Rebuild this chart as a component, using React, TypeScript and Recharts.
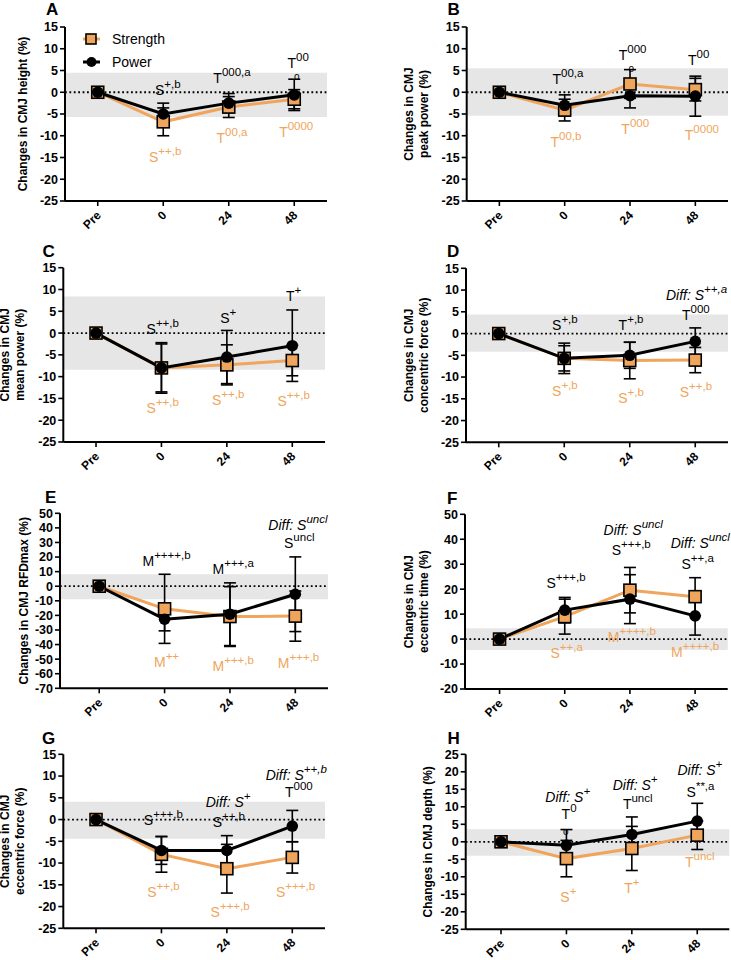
import {
  ComposedChart,
  ErrorBar,
  Line,
  ReferenceArea,
  ReferenceLine,
  Scatter,
  XAxis,
  YAxis,
} from "recharts";

const FONT = "'Liberation Sans', Arial, Helvetica, sans-serif";
const ORANGE = "#EFA55C";
const BAND = "#E6E6E6";

const CATEGORIES = ["Pre", "0", "24", "48"];
const SERIES_NAMES = ["Strength", "Power"];

const TICKS_A = [-25, -20, -15, -10, -5, 0, 5, 10, 15];
const TICKS_E = [-70, -60, -50, -40, -30, -20, -10, 0, 10, 20, 30, 40, 50];
const TICKS_F = [-20, -10, 0, 10, 20, 30, 40, 50];
const TICKS_H = [-25, -20, -15, -10, -5, 0, 5, 10, 15, 20, 25];

// means and SD per time point (Pre, 0, 24, 48 h)
const aStrength = [0, -6.8, -3.4, -1.6];
const aStrengthSd = [0, 3.2, 2.4, 2.2];
const aPower = [0, -5.0, -2.5, -0.6];
const aPowerSd = [0, 2.5, 2.2, 3.6];
const aBand = [-5.7, 4.5];

const bStrength = [0, -4.1, 1.9, 0.6];
const bStrengthSd = [0, 2.5, 3.3, 2.6];
const bPower = [0, -3.0, -0.8, -0.9];
const bPowerSd = [0, 2.4, 2.8, 4.6];
const bBand = [-5.4, 5.5];

const cStrength = [0, -8.0, -7.3, -6.3];
const cStrengthSd = [0, 5.5, 4.6, 3.5];
const cPower = [0, -8.0, -5.5, -2.9];
const cPowerSd = [0, 5.8, 6.1, 8.2];
const cBand = [-8.4, 8.4];

const dStrength = [0, -5.7, -6.2, -6.1];
const dStrengthSd = [0, 2.9, 4.2, 2.9];
const dPower = [0, -5.7, -5.0, -1.8];
const dPowerSd = [0, 3.5, 3.0, 3.1];
const dBand = [-4.2, 4.4];

const eStrength = [0, -15.5, -20.8, -20.5];
const eStrengthSd = [0, 23.7, 20.5, 17.2];
const ePower = [0, -22.6, -19.2, -5.5];
const ePowerSd = [0, 8.0, 21.5, 25.6];
const eBand = [-8.9, 8.2];

const fStrength = [0, 9.0, 19.6, 17.0];
const fStrengthSd = [0, 7.0, 9.1, 7.6];
const fPower = [0, 11.6, 16.0, 9.3];
const fPowerSd = [0, 5.1, 9.8, 7.7];
const fBand = [-4.4, 4.3];

const gStrength = [0, -8.0, -11.3, -8.7];
const gStrengthSd = [0, 4.1, 5.6, 3.6];
const gPower = [0, -7.1, -7.1, -1.5];
const gPowerSd = [0, 3.2, 3.4, 3.6];
const gBand = [-4.4, 4.1];

const hStrength = [0, -4.8, -1.9, 1.9];
const hStrengthSd = [0, 5.2, 6.3, 4.1];
const hPower = [0, -1.0, 2.1, 5.9];
const hPowerSd = [0, 4.5, 5.0, 5.1];
const hBand = [-4.0, 3.6];

// annotations: t = time index, v = value, m = main text, s = superscript, c = group colour
type Note = { t: number; v: number; m: string; s?: string; c: "s" | "p"; i?: boolean };

const aNotes: Note[] = [
  { t: 1.07, v: -0.6, m: "S", s: "+,b", c: "p" },
  { t: 1.03, v: -16.0, m: "S", s: "++,b", c: "s" },
  { t: 2.05, v: 2.1, m: "T", s: "000,a", c: "p" },
  { t: 2.05, v: -11.7, m: "T", s: "00,a", c: "s" },
  { t: 3.06, v: 5.5, m: "T", s: "00", c: "p" },
  { t: 3.03, v: -10.2, m: "T", s: "0000", c: "s" },
  { t: 3.04, v: 3.6, m: "o", c: "p" },
];
const bNotes: Note[] = [
  { t: 1.05, v: 1.9, m: "T", s: "00,a", c: "p" },
  { t: 1.02, v: -12.5, m: "T", s: "00,b", c: "s" },
  { t: 2.04, v: 7.4, m: "T", s: "000", c: "p" },
  { t: 2.08, v: -9.7, m: "T", s: "000", c: "s" },
  { t: 3.05, v: 6.3, m: "T", s: "00", c: "p" },
  { t: 3.1, v: -11.0, m: "T", s: "0000", c: "s" },
  { t: 2.02, v: 5.5, m: "o", c: "p" },
];
const cNotes: Note[] = [
  { t: 1.02, v: -0.3, m: "S", s: "++,b", c: "p" },
  { t: 1.02, v: -18.4, m: "S", s: "++,b", c: "s" },
  { t: 2.02, v: 2.2, m: "S", s: "+", c: "p" },
  { t: 2.02, v: -16.5, m: "S", s: "++,b", c: "s" },
  { t: 3.02, v: 7.4, m: "T", s: "+", c: "p" },
  { t: 3.02, v: -16.7, m: "S", s: "++,b", c: "s" },
];
const dNotes: Note[] = [
  { t: 1.01, v: 0.8, m: "S", s: "+,b", c: "p" },
  { t: 1.01, v: -14.3, m: "S", s: "+,b", c: "s" },
  { t: 2.02, v: 0.8, m: "T", s: "+,b", c: "p" },
  { t: 2.02, v: -16.0, m: "S", s: "+,b", c: "s" },
  { t: 3.02, v: 7.7, m: "Diff: S", s: "++,a", c: "p", i: true },
  { t: 3.01, v: 3.1, m: "T", s: "000", c: "p" },
  { t: 3.01, v: -14.5, m: "S", s: "++,b", c: "s" },
];
const eNotes: Note[] = [
  { t: 1.03, v: 13.9, m: "M", s: "++++,b", c: "p" },
  { t: 1.03, v: -55.2, m: "M", s: "++", c: "s" },
  { t: 2.05, v: 8.2, m: "M", s: "+++,a", c: "p" },
  { t: 2.05, v: -58.0, m: "M", s: "+++,b", c: "s" },
  { t: 3.04, v: 38.5, m: "Diff: S", s: "uncl", c: "p", i: true },
  { t: 3.06, v: 26.0, m: "S", s: "uncl", c: "p" },
  { t: 3.05, v: -55.9, m: "M", s: "+++,b", c: "s" },
];
const fNotes: Note[] = [
  { t: 1.02, v: 20.6, m: "S", s: "+++,b", c: "p" },
  { t: 1.03, v: -7.5, m: "S", s: "++,a", c: "s" },
  { t: 2.05, v: 41.7, m: "Diff: S", s: "uncl", c: "p", i: true },
  { t: 2.02, v: 33.7, m: "S", s: "+++,b", c: "p" },
  { t: 2.03, v: -1.0, m: "M", s: "++++,b", c: "s" },
  { t: 3.08, v: 36.4, m: "Diff: S", s: "uncl", c: "p", i: true },
  { t: 3.04, v: 28.0, m: "S", s: "++,a", c: "p" },
  { t: 3.0, v: -7.1, m: "M", s: "++++,b", c: "s" },
];
const gNotes: Note[] = [
  { t: 1.03, v: -1.2, m: "S", s: "+++,b", c: "p" },
  { t: 1.03, v: -17.7, m: "S", s: "++,b", c: "s" },
  { t: 2.02, v: 2.8, m: "Diff: S", s: "+", c: "p", i: true },
  { t: 2.03, v: -1.6, m: "S", s: "++,b", c: "p" },
  { t: 2.05, v: -22.5, m: "S", s: "+++,b", c: "s" },
  { t: 3.06, v: 9.1, m: "Diff: S", s: "++,b", c: "p", i: true },
  { t: 3.1, v: 5.1, m: "T", s: "000", c: "p" },
  { t: 3.05, v: -17.7, m: "S", s: "+++,b", c: "s" },
];
const hNotes: Note[] = [
  { t: 1.02, v: 11.5, m: "Diff: S", s: "+", c: "p", i: true },
  { t: 1.04, v: 6.4, m: "T", s: "0", c: "p" },
  { t: 0.99, v: 2.9, m: "o", c: "p" },
  { t: 1.03, v: -17.1, m: "S", s: "+", c: "s" },
  { t: 2.05, v: 14.8, m: "Diff: S", s: "+", c: "p", i: true },
  { t: 2.09, v: 9.3, m: "T", s: "uncl", c: "p" },
  { t: 2.0, v: -14.7, m: "T", s: "+", c: "s" },
  { t: 3.04, v: 19.1, m: "Diff: S", s: "+", c: "p", i: true },
  { t: 3.05, v: 12.7, m: "S", s: "**,a", c: "p" },
  { t: 3.04, v: -7.1, m: "T", s: "uncl", c: "s" },
];

type Panel = {
  letter: string;
  letterX: number;
  letterY: number;
  left: number;
  top: number;
  width: number;
  axisX: number;
  plotTop: number;
  plotBottom: number;
  plotRight: number;
  xDomain: [number, number];
  yDomain: [number, number];
  yTicks: number[];
  yLabel: string[];
  labelX: number;
  band: number[];
  strength: number[];
  strengthSd: number[];
  power: number[];
  powerSd: number[];
  notes: Note[];
};

const PANELS: Panel[] = [
  {
    letter: "A", letterX: 46, letterY: 15.3, left: 0, top: 0, width: 365,
    axisX: 65, plotTop: 27, plotBottom: 201, plotRight: 327,
    xDomain: [-0.5, 3.5], yDomain: [-25, 15], yTicks: TICKS_A,
    yLabel: ["Changes in CMJ height (%)"], labelX: 27,
    band: aBand, strength: aStrength, strengthSd: aStrengthSd, power: aPower, powerSd: aPowerSd, notes: aNotes,
  },
  {
    letter: "B", letterX: 447.5, letterY: 15.3, left: 365, top: 0, width: 366,
    axisX: 466.7, plotTop: 27, plotBottom: 201, plotRight: 728,
    xDomain: [-0.5, 3.5], yDomain: [-25, 15], yTicks: TICKS_A,
    yLabel: ["Changes in CMJ", "peak power (%)"], labelX: 48.3,
    band: bBand, strength: bStrength, strengthSd: bStrengthSd, power: bPower, powerSd: bPowerSd, notes: bNotes,
  },
  {
    letter: "C", letterX: 42.5, letterY: 257.3, left: 0, top: 240, width: 365,
    axisX: 63.3, plotTop: 267.7, plotBottom: 442, plotRight: 325,
    xDomain: [-0.5, 3.5], yDomain: [-25, 15], yTicks: TICKS_A,
    yLabel: ["Changes in CMJ", "mean power (%)"], labelX: 9.5,
    band: cBand, strength: cStrength, strengthSd: cStrengthSd, power: cPower, powerSd: cPowerSd, notes: cNotes,
  },
  {
    letter: "D", letterX: 447, letterY: 257.3, left: 365, top: 240, width: 366,
    axisX: 466, plotTop: 268.3, plotBottom: 442.3, plotRight: 728,
    xDomain: [-0.5, 3.5], yDomain: [-25, 15], yTicks: TICKS_A,
    yLabel: ["Changes in CMJ", "concentric force (%)"], labelX: 48.3,
    band: dBand, strength: dStrength, strengthSd: dStrengthSd, power: dPower, powerSd: dPowerSd, notes: dNotes,
  },
  {
    letter: "E", letterX: 45, letterY: 503.3, left: 0, top: 480, width: 365,
    axisX: 60, plotTop: 513.3, plotBottom: 688.3, plotRight: 328,
    xDomain: [-0.6, 3.5], yDomain: [-70, 50], yTicks: TICKS_E,
    yLabel: ["Changes in CMJ RFDmax (%)"], labelX: 27.7,
    band: eBand, strength: eStrength, strengthSd: eStrengthSd, power: ePower, powerSd: ePowerSd, notes: eNotes,
  },
  {
    letter: "F", letterX: 447, letterY: 504, left: 365, top: 480, width: 366,
    axisX: 465, plotTop: 514.3, plotBottom: 689, plotRight: 727.7,
    xDomain: [-0.53, 3.5], yDomain: [-20, 50], yTicks: TICKS_F,
    yLabel: ["Changes in CMJ", "eccentric time (%)"], labelX: 48.3,
    band: fBand, strength: fStrength, strengthSd: fStrengthSd, power: fPower, powerSd: fPowerSd, notes: fNotes,
  },
  {
    letter: "G", letterX: 42, letterY: 744, left: 0, top: 720, width: 365,
    axisX: 63.3, plotTop: 754.3, plotBottom: 928.3, plotRight: 325,
    xDomain: [-0.5, 3.5], yDomain: [-25, 15], yTicks: TICKS_A,
    yLabel: ["Changes in CMJ", "eccentric force (%)"], labelX: 9.5,
    band: gBand, strength: gStrength, strengthSd: gStrengthSd, power: gPower, powerSd: gPowerSd, notes: gNotes,
  },
  {
    letter: "H", letterX: 447.5, letterY: 744, left: 365, top: 720, width: 366,
    axisX: 465.7, plotTop: 754.3, plotBottom: 929.3, plotRight: 729.3,
    xDomain: [-0.54, 3.49], yDomain: [-25, 25], yTicks: TICKS_H,
    yLabel: ["Changes in CMJ depth (%)"], labelX: 66.7,
    band: hBand, strength: hStrength, strengthSd: hStrengthSd, power: hPower, powerSd: hPowerSd, notes: hNotes,
  },
];

const CHART_H = 262;
const X_AXIS_H = 30;

const squareDot = (props: any) => {
  const { cx, cy, index } = props;
  if (cx == null || cy == null) return <g key={`sq-${index}`} />;
  return (
    <rect key={`sq-${index}`} x={cx - 6} y={cy - 6} width={12} height={12} fill={ORANGE} stroke="#000" strokeWidth={1.6} />
  );
};

const circleDot = (props: any) => {
  const { cx, cy, index } = props;
  if (cx == null || cy == null) return <g key={`ci-${index}`} />;
  return <circle key={`ci-${index}`} cx={cx} cy={cy} r={5.8} fill="#000" />;
};

// rotated category labels under the axis
const XTick = (props: any) => {
  const { x, y, payload } = props;
  return (
    <g transform={`translate(${x + 4},${y + 8}) rotate(-45)`}>
      <text x={0} y={0} textAnchor="end" fontSize={12} fontWeight="bold" fontFamily={FONT} fill="#000">
        {CATEGORIES[Math.round(payload.value)]}
      </text>
    </g>
  );
};

const NoteShape = (props: any) => {
  const { cx, cy, payload } = props;
  const n = payload as Note;
  const fill = n.c === "s" ? ORANGE : "#000";
  if (n.m === "o") {
    return (
      <text x={cx} y={cy} textAnchor="middle" dominantBaseline="central" fontSize={10} fontFamily={FONT} fill={fill}>
        o
      </text>
    );
  }
  return (
    <text x={cx} y={cy} textAnchor="middle" fontSize={14} fontFamily={FONT} fontStyle={n.i ? "italic" : "normal"} fill={fill}>
      {n.m}
      {n.s ? (
        <tspan dy={-7} fontSize={11.5}>
          {n.s}
        </tspan>
      ) : null}
    </text>
  );
};

function PanelChart({ p }: { p: Panel }) {
  const rows = CATEGORIES.map((_, i) => ({
    t: i,
    s: p.strength[i],
    sSd: p.strengthSd[i],
    w: p.power[i],
    wSd: p.powerSd[i],
  }));
  const margin = {
    top: p.plotTop - p.top,
    right: p.left + p.width - p.plotRight,
    bottom: p.top + CHART_H - p.plotBottom - X_AXIS_H,
    left: 0,
  };
  const yMid = (p.plotTop + p.plotBottom) / 2 - p.top;

  return (
    <div style={{ position: "absolute", left: p.left, top: p.top }}>
      <ComposedChart width={p.width} height={CHART_H} data={rows} margin={margin}>
        <ReferenceArea y1={p.band[0]} y2={p.band[1]} fill={BAND} fillOpacity={1} stroke="none" />
        <ReferenceLine y={0} stroke="#000" strokeWidth={1.8} strokeDasharray="1.8 2.6" />
        <XAxis
          dataKey="t"
          type="number"
          domain={p.xDomain}
          ticks={[0, 1, 2, 3]}
          interval={0}
          height={X_AXIS_H}
          tickSize={5}
          tick={(tp: any) => <XTick {...tp} />}
          axisLine={{ stroke: "#000", strokeWidth: 2 }}
          tickLine={{ stroke: "#000", strokeWidth: 1.6 }}
        />
        <YAxis
          type="number"
          domain={p.yDomain}
          ticks={p.yTicks}
          interval={0}
          width={p.axisX - p.left}
          tickSize={5}
          tickMargin={2}
          tick={{ fontSize: 12.5, fontWeight: 700, fill: "#000", fontFamily: FONT }}
          axisLine={{ stroke: "#000", strokeWidth: 2 }}
          tickLine={{ stroke: "#000", strokeWidth: 1.6 }}
          label={() => (
            <text
              x={p.labelX}
              y={yMid}
              transform={`rotate(-90 ${p.labelX} ${yMid})`}
              textAnchor="middle"
              fontSize={12}
              fontWeight="bold"
              fontFamily={FONT}
              fill="#000"
            >
              {p.yLabel.map((ln, k) => (
                <tspan key={k} x={p.labelX} dy={k === 0 ? 0 : 15}>
                  {ln}
                </tspan>
              ))}
            </text>
          )}
        />
        <Line dataKey="s" stroke={ORANGE} strokeWidth={3} dot={squareDot} activeDot={false} isAnimationActive={false} />
        <Line dataKey="w" stroke="#000" strokeWidth={3} dot={circleDot} activeDot={false} isAnimationActive={false} />
        <Line dataKey="s" stroke="none" dot={false} activeDot={false} isAnimationActive={false}>
          <ErrorBar dataKey="sSd" width={6} stroke="#000" strokeWidth={1.6} direction="y" />
        </Line>
        <Line dataKey="w" stroke="none" dot={false} activeDot={false} isAnimationActive={false}>
          <ErrorBar dataKey="wSd" width={6} stroke="#000" strokeWidth={1.6} direction="y" />
        </Line>
        <Scatter data={p.notes} dataKey="v" shape={NoteShape} isAnimationActive={false} />
      </ComposedChart>
    </div>
  );
}

export default function App() {
  return (
    <div style={{ position: "absolute", left: 0, top: 0, width: 731, height: 960, background: "#fff", fontFamily: FONT, overflow: "hidden" }}>
      {PANELS.map((p) => (
        <PanelChart key={p.letter} p={p} />
      ))}
      <svg width={731} height={960} style={{ position: "absolute", left: 0, top: 0, pointerEvents: "none" }}>
        {PANELS.map((p) => (
          <text key={p.letter} x={p.letterX} y={p.letterY} fontSize={17} fontWeight="bold" fontFamily={FONT} fill="#000">
            {p.letter}
          </text>
        ))}
        {/* legend of panel A */}
        <line x1={83} x2={100} y1={39} y2={39} stroke={ORANGE} strokeWidth={3} />
        <rect x={86} y={34} width={10} height={10} fill={ORANGE} stroke="#000" strokeWidth={1.6} />
        <text x={112} y={39} dominantBaseline="central" fontSize={14} fontFamily={FONT} fill="#000">
          {SERIES_NAMES[0]}
        </text>
        <line x1={83} x2={100} y1={62} y2={62} stroke="#000" strokeWidth={3} />
        <circle cx={91.5} cy={62} r={5} fill="#000" />
        <text x={112} y={62} dominantBaseline="central" fontSize={14} fontFamily={FONT} fill="#000">
          {SERIES_NAMES[1]}
        </text>
      </svg>
    </div>
  );
}
